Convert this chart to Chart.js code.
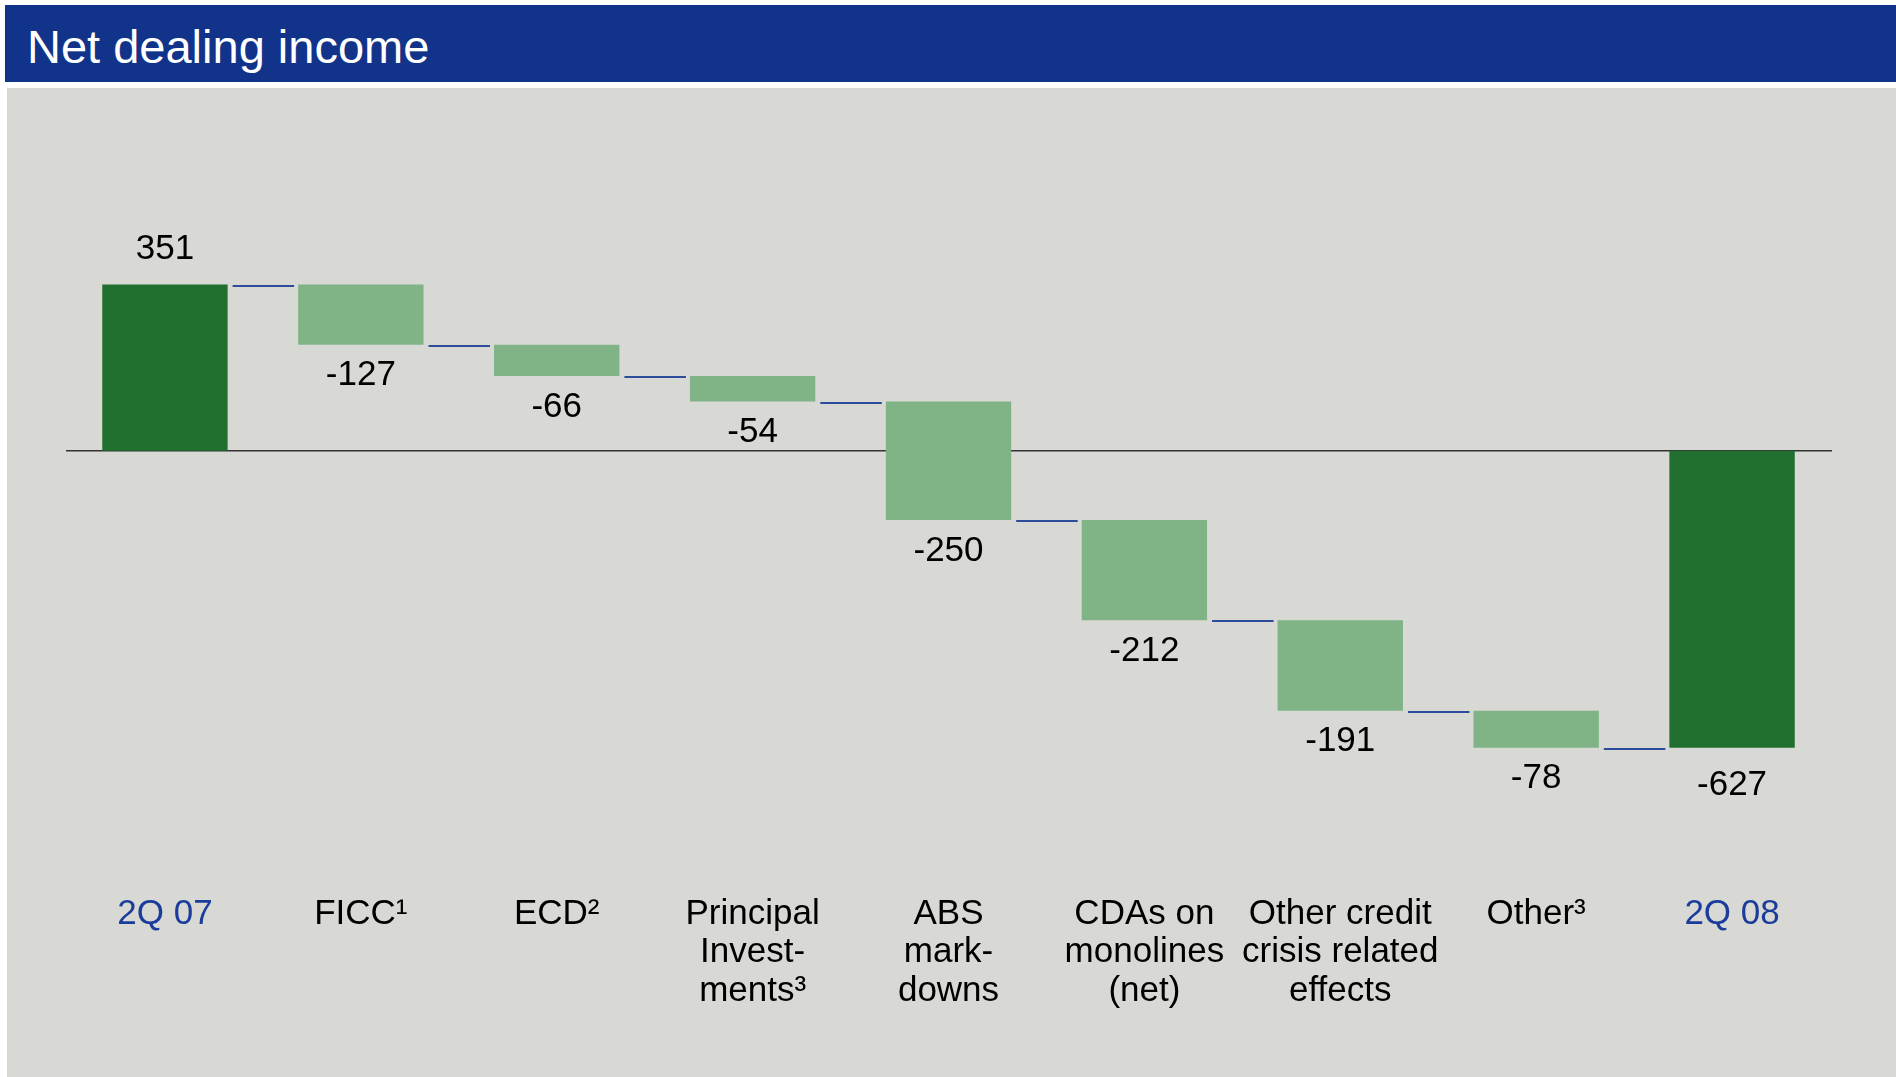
<!DOCTYPE html>
<html>
<head>
<meta charset="utf-8">
<title>Net dealing income</title>
<script src="https://cdn.jsdelivr.net/npm/chart.js@4.4.1/dist/chart.umd.min.js"></script>
<style>
  body { margin: 0; background: #fff; width: 1896px; height: 1077px; overflow: hidden; position: relative;
         font-family: "Liberation Sans", Arial, sans-serif; }
  #title { position: absolute; left: 5px; top: 5px; right: 0; height: 74px; padding-top: 3px; padding-left: 22px;
           background: #12338A; color: #fff; font-size: 47px; line-height: 77px; }
  #panel { position: absolute; left: 7px; top: 88px; right: 0; bottom: 0; background: #D8D9D4; }
  #chart { position: absolute; left: 0; top: 0; }
</style>
</head>
<body>
<div id="title">Net dealing income</div>
<div id="panel"></div>
<canvas id="chart" width="1896" height="1077"></canvas>
<script>
const categories = [
  ["2Q 07"],
  ["FICC¹"],
  ["ECD²"],
  ["Principal", "Invest-", "ments³"],
  ["ABS", "mark-", "downs"],
  ["CDAs on", "monolines", "(net)"],
  ["Other credit", "crisis related", "effects"],
  ["Other³"],
  ["2Q 08"],
];
const openingTotal = 351;
const changes = [-127, -66, -54, -250, -212, -191, -78];
const closingTotal = -627;

const yMin = -900;
const yMax = 500;

// floating bars: [from, to]
const ranges = [[0, openingTotal]];
let level = openingTotal;
changes.forEach(c => {
  ranges.push([level, level + c]);
  level += c;
});
ranges.push([0, closingTotal]);

const values = [openingTotal, ...changes, closingTotal];
const isTotal = i => i === 0 || i === values.length - 1;
const barColors = values.map((v, i) => isTotal(i) ? "#206F2E" : "#80B487");

const FONT = "Liberation Sans, Arial, sans-serif";

const waterfallExtras = {
  id: "waterfallExtras",
  beforeDatasetsDraw(chart) {
    const { ctx, chartArea, scales: { y } } = chart;
    const zero = y.getPixelForValue(0);
    ctx.save();
    ctx.strokeStyle = "#333";
    ctx.lineWidth = 1.5;
    ctx.beginPath();
    ctx.moveTo(chartArea.left - 1, zero);
    ctx.lineTo(chartArea.right + 2, zero);
    ctx.stroke();
    ctx.restore();
  },
  afterDatasetsDraw(chart) {
    const { ctx, scales: { y } } = chart;
    const bars = chart.getDatasetMeta(0).data;
    ctx.save();
    // connectors between bars
    ctx.strokeStyle = "#2E4C9C";
    ctx.lineWidth = 2;
    for (let i = 0; i < bars.length - 1; i++) {
      const a = bars[i], b = bars[i + 1];
      const yy = Math.round(y.getPixelForValue(ranges[i][1])) + 1;
      ctx.beginPath();
      ctx.moveTo(a.x + a.width / 2 + 5, yy);
      ctx.lineTo(b.x - b.width / 2 - 4, yy);
      ctx.stroke();
    }
    // value labels
    ctx.fillStyle = "#000";
    ctx.font = "35px " + FONT;
    ctx.textAlign = "center";
    ctx.textBaseline = "middle";
    bars.forEach((bar, i) => {
      const top = Math.min(bar.y, bar.base);
      const bottom = Math.max(bar.y, bar.base);
      const ty = values[i] >= 0 ? top - 35 : bottom + (isTotal(i) ? 38 : 31);
      ctx.fillText(String(values[i]), bar.x, ty);
    });
    ctx.restore();
  }
};

new Chart(document.getElementById("chart"), {
  type: "bar",
  data: {
    labels: categories,
    datasets: [{
      data: ranges,
      backgroundColor: barColors,
      borderWidth: 0,
      borderSkipped: false,
      barPercentage: 0.64,
      categoryPercentage: 1.0,
    }],
  },
  options: {
    responsive: false,
    animation: false,
    layout: { padding: { left: 67, right: 66, top: 214, bottom: 0 } },
    plugins: {
      legend: { display: false },
      tooltip: { enabled: false },
    },
    scales: {
      x: {
        grid: { display: false, drawTicks: false },
        border: { display: false },
        ticks: {
          font: { family: FONT, size: 35, lineHeight: 1.1 },
          color: ctx => isTotal(ctx.index) ? "#1A3C9B" : "#000",
          padding: 18,
          maxRotation: 0,
          autoSkip: false,
        },
        afterFit(axis) { axis.height = 200; },
      },
      y: {
        display: false,
        min: yMin,
        max: yMax,
      },
    },
  },
  plugins: [waterfallExtras],
});
</script>
</body>
</html>
